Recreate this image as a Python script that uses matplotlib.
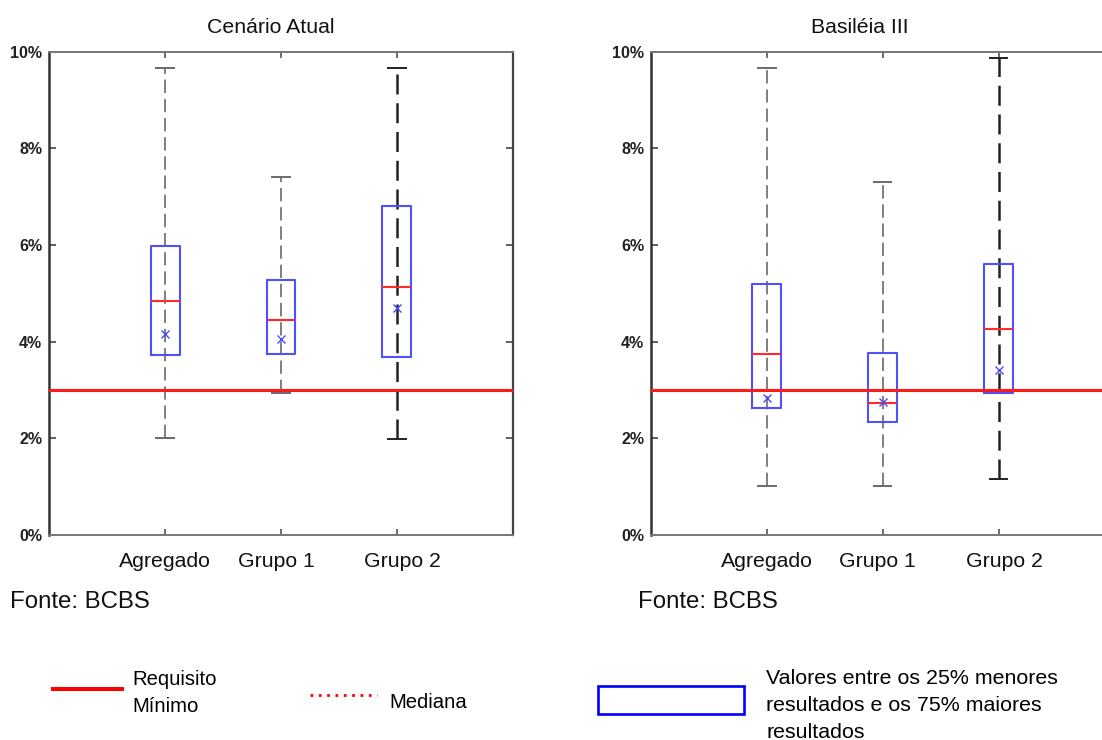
import matplotlib
matplotlib.use('Agg')
import matplotlib.pyplot as plt
from matplotlib.lines import Line2D
from matplotlib.patches import Rectangle
import matplotlib.transforms as mtransforms

plt.rcParams['font.family'] = ['Liberation Sans', 'DejaVu Sans']

# ---------------- data ----------------
categories = ['Agregado', 'Grupo 1', 'Grupo 2']
titles = ['Cenário Atual', 'Basiléia III']
source_text = 'Fonte: BCBS'

atual_whislo = [2.00, 2.93, 1.98]
atual_q1 = [3.72, 3.75, 3.69]
atual_med = [4.84, 4.45, 5.14]
atual_mean = [4.15, 4.06, 4.69]
atual_q3 = [5.98, 5.28, 6.81]
atual_whishi = [9.67, 7.41, 9.67]

basel_whislo = [1.01, 1.01, 1.15]
basel_q1 = [2.62, 2.33, 2.93]
basel_med = [3.75, 2.73, 4.26]
basel_mean = [2.84, 2.75, 3.41]
basel_q3 = [5.19, 3.76, 5.61]
basel_whishi = [9.67, 7.31, 9.86]

requisito_minimo = 3.0
yticks = [0, 2, 4, 6, 8, 10]
ytick_labels = ['0%', '2%', '4%', '6%', '8%', '10%']

legend_req = 'Requisito\nMínimo'
legend_med = 'Mediana'
legend_box = 'Valores entre os 25% menores\nresultados e os 75% maiores\nresultados'

# ---------------- figure ----------------
W, H = 1102, 740
fig = plt.figure(figsize=(W / 100, H / 100), dpi=100)


def px_rect(x0, y_top, x1, y_bot):
    return [x0 / W, 1 - y_bot / H, (x1 - x0) / W, (y_bot - y_top) / H]


def fx(x):
    return x / W


def fy(y):
    return 1 - y / H


ax1 = fig.add_axes(px_rect(49.3, 51.7, 512.7, 535))
ax2 = fig.add_axes(px_rect(651, 51.7, 1114.4, 535))

whisker_colors = ['#6a6a6a', '#6a6a6a', '#222222']
whisker_lw = [1.2, 1.2, 1.8]


def draw_panel(ax, whislo, q1, med, mean, q3, whishi):
    positions = [1, 2, 3]
    stats = []
    for lo, a, m, mu, b, hi in zip(whislo, q1, med, mean, q3, whishi):
        stats.append(dict(whislo=lo, q1=a, med=m, mean=mu, q3=b, whishi=hi, fliers=[]))
    # dashed whisker line running through the whole range
    for i, (p, lo, hi) in enumerate(zip(positions, whislo, whishi)):
        ax.plot([p, p], [lo, hi], color=whisker_colors[i], lw=whisker_lw[i],
                dashes=(8, 3.5), zorder=2)
    bp = ax.bxp(stats, positions=positions, widths=0.25, showmeans=True,
                capwidths=0.15, showfliers=False,
                boxprops=dict(color='#5050ff', lw=1.5),
                medianprops=dict(color='#ff2a2a', lw=1.5),
                meanprops=dict(marker='x', markeredgecolor='#4a4aff',
                               markersize=6, markeredgewidth=1.0,
                               linestyle='none'),
                capprops=dict(lw=1.4), whiskerprops=dict(lw=0))
    for w in bp['whiskers']:
        w.set_visible(False)
    for i, c in enumerate(bp['caps']):
        c.set_color(whisker_colors[i // 2])
        c.set_zorder(3)
    for b in bp['boxes']:
        b.set_zorder(4)
    for m in bp['medians']:
        m.set_zorder(5)
    for m in bp['means']:
        m.set_zorder(6)
    ax.axhline(requisito_minimo, color='#ff1a1a', lw=2.2, zorder=7)

    ax.set_xlim(0, 4)
    ax.set_ylim(0, 10)
    ax.set_yticks(yticks)
    ax.set_yticklabels(ytick_labels, fontsize=11.5, fontweight='bold', color='#222222')
    ax.set_xticks(positions)
    ax.set_xticklabels(categories, fontsize=15.3, color='#111111')
    ax.tick_params(axis='y', direction='in', left=True, right=True, length=5,
                   width=1.2, color='#444444', pad=5)
    ax.tick_params(axis='x', direction='in', bottom=True, top=True, length=4,
                   width=1.2, color='#555555', pad=12.5)
    ax.spines['left'].set_color('#333333')
    ax.spines['left'].set_linewidth(1.8)
    ax.spines['right'].set_color('#444444')
    ax.spines['right'].set_linewidth(1.6)
    for s in ['top', 'bottom']:
        ax.spines[s].set_color('#777777')
        ax.spines[s].set_linewidth(1.4)
    # slight offsets of the category labels as in the original
    offsets = [0, -5, 6]
    for lab, dx in zip(ax.get_xticklabels(), offsets):
        lab.set_transform(lab.get_transform() +
                          mtransforms.ScaledTranslation(dx / 100, 0, fig.dpi_scale_trans))


draw_panel(ax1, atual_whislo, atual_q1, atual_med, atual_mean, atual_q3, atual_whishi)
draw_panel(ax2, basel_whislo, basel_q1, basel_med, basel_mean, basel_q3, basel_whishi)

# titles
fig.text(fx(271), fy(33), titles[0], ha='center', va='baseline', fontsize=15.3, color='#111111')
fig.text(fx(860), fy(33), titles[1], ha='center', va='baseline', fontsize=15.3, color='#111111')

# source notes
fig.text(fx(10), fy(608), source_text, ha='left', va='baseline', fontsize=17.3, color='#111111')
fig.text(fx(638), fy(608), source_text, ha='left', va='baseline', fontsize=17.3, color='#111111')

# ---------------- legend ----------------
fig.add_artist(Line2D([fx(53.3), fx(121.7)], [fy(689), fy(689)], color='#ff0000', lw=2.9,
                      transform=fig.transFigure))
fig.text(fx(132), fy(685), legend_req.split('\n')[0], ha='left', va='baseline', fontsize=14.6)
fig.text(fx(132), fy(712.5), legend_req.split('\n')[1], ha='left', va='baseline', fontsize=14.6)

fig.add_artist(Line2D([fx(310), fx(377)], [fy(695), fy(695)], color='#ff0000', lw=2.0,
                      dashes=(1, 2), transform=fig.transFigure))
fig.text(fx(389), fy(707.5), legend_med, ha='left', va='baseline', fontsize=14.6)

fig.add_artist(Rectangle((fx(598), fy(714)), fx(743.5) - fx(598), fy(686) - fy(714),
                         fill=False, edgecolor='#0000ff', lw=1.9, transform=fig.transFigure))
box_lines = legend_box.split('\n')
for line, yb in zip(box_lines, [684, 711, 738]):
    fig.text(fx(766), fy(yb), line, ha='left', va='baseline', fontsize=15.4)

fig.savefig('out.png', dpi=100, facecolor='white')
